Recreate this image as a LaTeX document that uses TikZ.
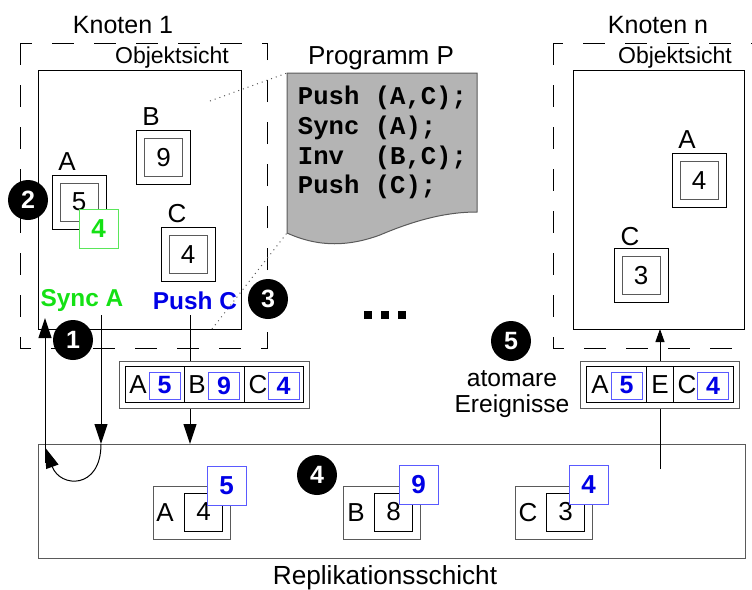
\documentclass[tikz,border=0pt]{standalone}
\usepackage{fontspec}
\setmainfont{Liberation Sans}
\newfontfamily\codefont{Liberation Mono}
\usetikzlibrary{arrows.meta}
\definecolor{syncgreen}{RGB}{20,225,20}
\definecolor{greenedge}{RGB}{90,230,90}
\definecolor{pushblue}{RGB}{0,0,230}
\definecolor{blueedge}{RGB}{90,90,255}
\definecolor{progfill}{RGB}{180,180,180}
\definecolor{edgegray}{RGB}{90,90,90}

\begin{document}
\begin{tikzpicture}[x=0.5pt,y=-0.5pt,line width=0.5pt,
  every node/.style={inner sep=0pt,outer sep=0pt},
  knotenlabel/.style={font=\fontsize{12.5}{15}\selectfont},
  viewlabel/.style={font=\fontsize{11.5}{14}\selectfont},
  frame/.style={dash pattern=on 11pt off 10pt},
  objouter/.style={draw,minimum size=27pt},
  objinner/.style={draw=edgegray,minimum size=19pt,font=\fontsize{13}{15}\selectfont},
  objname/.style={font=\fontsize{13}{15}\selectfont},
  greenbox/.style={draw=greenedge,fill=white,minimum size=19.5pt,text=syncgreen,
    font=\bfseries\fontsize{13}{15}\selectfont},
  stepnum/.style={circle,fill=black,minimum size=20pt,text=white,
    font=\bfseries\fontsize{12.5}{14}\selectfont},
  cmd/.style={font=\bfseries\fontsize{12.2}{14}\selectfont},
  code/.style={anchor=west,font=\codefont\bfseries\fontsize{12.8}{15}\selectfont},
  rowframe/.style={draw=edgegray,fill=white,minimum height=23.5pt},
  rowcell/.style={draw,minimum height=18pt},
  rowletter/.style={font=\fontsize{13}{15}\selectfont},
  rowblue/.style={draw=blueedge,fill=white,minimum width=15.5pt,minimum height=13.5pt,
    text=pushblue,font=\bfseries\fontsize{12.5}{15}\selectfont},
  replouter/.style={draw=edgegray,minimum width=38.5pt,minimum height=26.5pt},
  replinner/.style={draw,minimum size=19pt,font=\fontsize{13}{15}\selectfont},
  replblue/.style={draw=blueedge,fill=white,minimum size=19.5pt,text=pushblue,
    font=\bfseries\fontsize{13}{15}\selectfont},
  bigtip/.style={-{Triangle[length=10pt,width=6.5pt]}},
  smalltip/.style={-{Triangle[length=6.5pt,width=4.5pt]}},
  dots/.style={fill=black,minimum size=4pt}
]
\useasboundingbox (0,0) rectangle (752,590);

% node frames
\draw[frame] (20,43) rectangle (267,348);
\draw[frame] (553,43) rectangle (820,348);
\node[knotenlabel] (k1) at (123,25) {Knoten 1};
\node[knotenlabel] (kn) at (658,25) {Knoten n};

% object views
\node[draw,minimum width=101.5pt,minimum height=129.5pt] (view1) at (139.5,199.5) {};
\node[viewlabel] (view1lbl) at (172,58) {Objektsicht};
\node[draw,minimum width=85.5pt,minimum height=129.5pt] (viewn) at (658.5,199.5) {};
\node[viewlabel] (viewnlbl) at (675,58) {Objektsicht};

% program P
\coordinate (progTL) at (287,73);
\coordinate (progBL) at (287,233);
\draw[draw=edgegray,fill=progfill] (progTL) -- (477,73) -- (477,212)
  .. controls (450,212) and (420,218) .. (380,235)
  .. controls (350,246) and (320,248) .. (progBL) -- cycle;
\node[font=\fontsize{13}{15}\selectfont] (progtitle) at (381,58) {Programm P};
\node[code] (c1) at (298,98) {Push (A,C);};
\node[code] (c2) at (298,128) {Sync (A);};
\node[code] (c3) at (298,157.5) {Inv~~(B,C);};
\node[code] (c4) at (298,187) {Push (C);};
\coordinate (zoomtop) at (210,101);
\coordinate (zoombot) at (212,329);
\draw[dotted,draw=edgegray] (zoomtop) -- (progTL);
\draw[dotted,draw=edgegray] (zoombot) -- (progBL);

% replication layer
\node[draw=edgegray,minimum width=353.5pt,minimum height=57pt] (repl) at (391.5,501) {};
\node[font=\fontsize{13.1}{15}\selectfont] (repllbl) at (385,578) {Replikationsschicht};

% commands
\node[cmd,text=syncgreen] (sync) at (82,301) {Sync A};
\node[cmd,text=pushblue] (push) at (195,301) {Push C};
\coordinate (syncfoot) at (101,315);
\coordinate (pushfoot) at (190,315);
\coordinate (loopbase) at (45,463);
\coordinate (looptip) at (45,318);
\coordinate (loopend) at (45.5,448);
\coordinate (eventsrc) at (660,469);

\draw[bigtip] (syncfoot) -- (syncfoot |- repl.north);
\draw[bigtip] (loopbase) -- (looptip);
\draw[bigtip] (syncfoot |- repl.north) .. controls (101,490) and (60,488) .. (loopend);
\draw[bigtip] (pushfoot) -- (pushfoot |- repl.north);
\draw[smalltip] (eventsrc) -- (eventsrc |- viewn.south);

% event rows
\node[rowframe,minimum width=95pt] (rowL) at (214,384.5) {};
\node[rowcell,minimum width=29.5pt] (rowLa) at (154.5,384) {};
\node[rowcell,minimum width=30pt] (rowLb) at (214,384) {};
\node[rowcell,minimum width=29.5pt] (rowLc) at (273.5,384) {};
\node[rowletter] (rLA) at (138,385) {A};
\node[rowblue] (rLA5) at (164.5,385.5) {5};
\node[rowletter] (rLB) at (197,385) {B};
\node[rowblue] (rLB9) at (224,385.5) {9};
\node[rowletter] (rLC) at (258,385) {C};
\node[rowblue] (rLC4) at (283.5,385.5) {4};

\node[rowframe,minimum width=79.5pt] (rowR) at (659.5,384.5) {};
\node[rowcell,minimum width=30pt] (rowRa) at (616,384) {};
\node[rowcell,minimum width=13.5pt] (rowRe) at (659.5,384) {};
\node[rowcell,minimum width=30pt] (rowRc) at (703,384) {};
\node[rowletter] (rRA) at (600,385) {A};
\node[rowblue] (rRA5) at (626.5,385.5) {5};
\node[rowletter] (rRE) at (660,385) {E};
\node[rowletter] (rRC) at (687,385) {C};
\node[rowblue] (rRC4) at (713,385.5) {4};
\node[align=center,font=\fontsize{12.3}{13}\selectfont] (atomic) at (512,394) {atomare\\Ereignisse};

% objects in Knoten 1
\node[objouter] (oA) at (79,202) {};
\node[objinner] (oA5) at (79,202) {5};
\node[objname] (oAl) at (67,162) {A};
\node[greenbox] (oA4) at (98.5,229) {4};
\node[objouter] (oB) at (163.5,157.5) {};
\node[objinner] (oB9) at (163.5,157.5) {9};
\node[objname] (oBl) at (151,116.5) {B};
\node[objouter] (oC) at (188,254.5) {};
\node[objinner] (oC4) at (188,254.5) {4};
\node[objname] (oCl) at (177,213.5) {C};

% objects in Knoten n
\node[objouter] (nA) at (699,180.5) {};
\node[objinner] (nA4) at (699,180.5) {4};
\node[objname] (nAl) at (687,140) {A};
\node[objouter] (nC) at (641,275.5) {};
\node[objinner] (nC3) at (641,275.5) {3};
\node[objname] (nCl) at (630,237) {C};

% replicated objects
\node[replouter] (pA) at (191.5,512.5) {};
\node[replinner] (pA4) at (203.5,512) {4};
\node[objname] (pAl) at (165,513) {A};
\node[replblue] (pA5) at (226.5,485.5) {5};
\node[replouter] (pB) at (381.5,512.5) {};
\node[replinner] (pB8) at (393.5,512) {8};
\node[objname] (pBl) at (356,513) {B};
\node[replblue] (pB9) at (418.5,485) {9};
\node[replouter] (pC) at (553.5,512.5) {};
\node[replinner] (pC3) at (565.5,512) {3};
\node[objname] (pCl) at (528,513) {C};
\node[replblue] (pC4) at (588.5,484.5) {4};

% ellipsis between the nodes
\node[dots] (d1) at (367.5,315) {};
\node[dots] (d2) at (384.5,315) {};
\node[dots] (d3) at (401.5,315) {};

% step markers
\node[stepnum] (s1) at (73,340) {1};
\node[stepnum] (s2) at (28,200) {2};
\node[stepnum] (s3) at (268,299) {3};
\node[stepnum] (s4) at (317,475) {4};
\node[stepnum] (s5) at (511,341) {5};
\end{tikzpicture}
\end{document}
